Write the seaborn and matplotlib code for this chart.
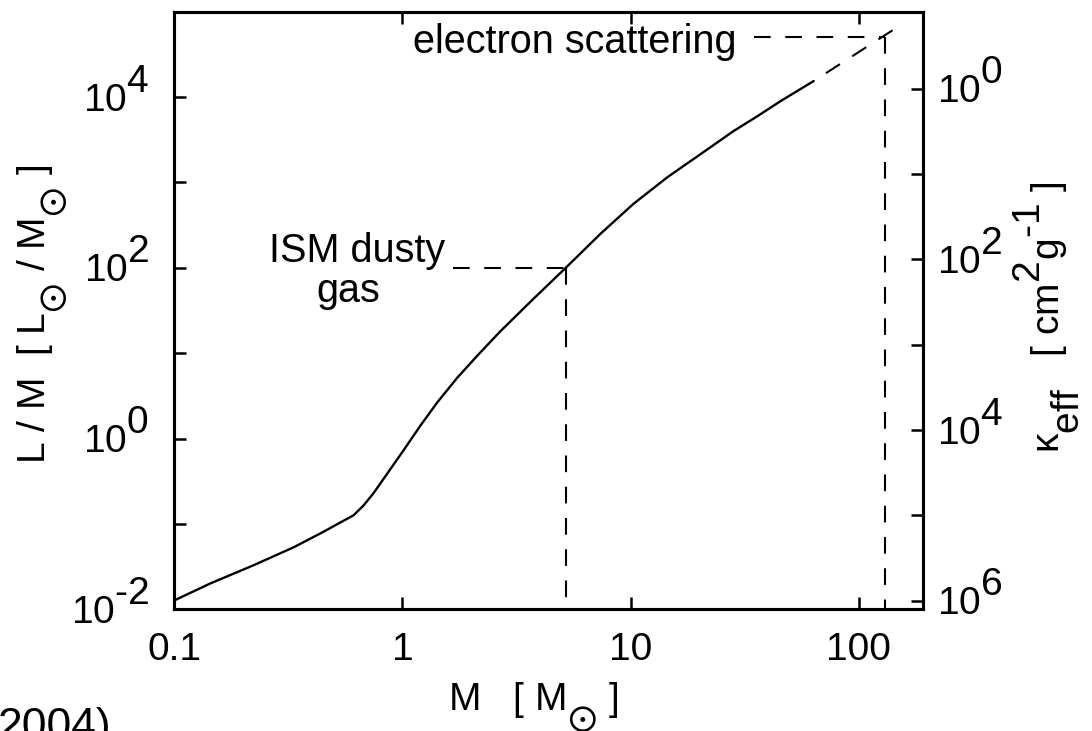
import numpy as np
import pandas as pd
import matplotlib
matplotlib.use("Agg")
import matplotlib.pyplot as plt
import matplotlib._mathtext as _mathtext
from matplotlib.ticker import FixedLocator, FuncFormatter, NullLocator
from matplotlib.transforms import ScaledTranslation
import seaborn as sns

# Stellar mass [M_sun] and light-to-mass ratio [L_sun / M_sun] along the curve
mass = [0.1, 0.144, 0.222, 0.333, 0.437, 0.610, 0.675, 0.746, 0.859, 1.01,
        1.20, 1.42, 1.74, 2.13, 2.69, 3.74, 5.2, 7.38, 10.3, 14.5,
        20.3, 28.3, 36.1, 45.5, 63.5]
light_to_mass = [0.0127, 0.0201, 0.0327, 0.0531, 0.0774, 0.126, 0.164, 0.228, 0.390, 0.724,
                 1.42, 2.64, 5.16, 9.35, 18.1, 42.9, 100, 250, 561, 1150,
                 2150, 4000, 6000, 8980, 15400]

# Extrapolated branch of the curve towards the electron-scattering limit
mass_ext = [63.5, 148]
light_to_mass_ext = [15400, 66000]

# Opacity limits: (mass, L/M) where each limit meets the curve
ism_mass, ism_lm = 5.2, 100
es_mass, es_lm = 130, 5.0e4
ism_guide_start = 1.67
es_guide_start = 34.6

# Effective opacity kappa_eff = KAPPA_NORM / (L/M)
KAPPA_NORM = 10 ** 4.1

x_ticks = [0.1, 1, 10, 100]
y_ticks = [10.0 ** k for k in range(-2, 5)]
kappa_ticks = [10.0 ** k for k in range(0, 7)]

sns.set_theme(style="ticks")
plt.rcParams["font.family"] = ["Liberation Sans", "DejaVu Sans"]
plt.rcParams["text.color"] = "black"
plt.rcParams["axes.labelcolor"] = "black"
plt.rcParams["mathtext.fontset"] = "custom"
plt.rcParams["mathtext.rm"] = "Liberation Sans"
plt.rcParams["mathtext.it"] = "Liberation Sans"
plt.rcParams["mathtext.bf"] = "Liberation Sans:bold"
plt.rcParams["mathtext.default"] = "regular"
# full-size exponents and subscripts, set well off the baseline
_mathtext.SHRINK_FACTOR = 1.0
_mathtext.FontConstantsBase.sup1 = 0.95
_mathtext.FontConstantsBase.sub1 = 0.95

FS = 28
SPINE_W = 2.2
DASH = dict(color="black", lw=1.5, linestyle=(0, (8, 7)))
HYPHEN = "\u2010"

fig = plt.figure(figsize=(10.92, 7.31), dpi=100)
ax = fig.add_axes([0.1596, 0.1665, 0.6859, 0.8175])

curve = pd.DataFrame({"mass": mass, "lm": light_to_mass})
sns.lineplot(data=curve, x="mass", y="lm", ax=ax, color="black", lw=1.7, sort=True)
ext = pd.DataFrame({"mass": mass_ext, "lm": light_to_mass_ext})
sns.lineplot(data=ext, x="mass", y="lm", ax=ax, color="black", lw=1.5,
             linestyle=(8, (8, 7)), sort=True)

# guide lines for the two opacity regimes
ax.plot([ism_guide_start, ism_mass], [ism_lm, ism_lm], **DASH)
ax.plot([ism_mass, ism_mass], [ism_lm, 1e-2], **DASH)
ax.plot([es_guide_start, es_mass], [es_lm, es_lm], **DASH)
ax.plot([es_mass, es_mass], [es_lm, 1e-2], **DASH)

ax.set_xscale("log")
ax.set_yscale("log")
ax.set_xlim(0.1, 192)
ax.set_ylim(1e-2, 1e5)


def decade_label(v, pos):
    k = int(round(np.log10(v)))
    if k % 2:
        return ""
    exp = f"{HYPHEN}{-k}" if k < 0 else f"{k}"
    return f"$10^{{{exp}}}$"


ax.xaxis.set_major_locator(FixedLocator(x_ticks))
ax.xaxis.set_major_formatter(FuncFormatter(lambda v, p: f"{v:g}"))
ax.xaxis.set_minor_locator(NullLocator())
ax.yaxis.set_major_locator(FixedLocator(y_ticks))
ax.yaxis.set_major_formatter(FuncFormatter(decade_label))
ax.yaxis.set_minor_locator(NullLocator())
ax.tick_params(axis="x", which="major", direction="in", length=8.6, width=1.8,
               labelsize=FS, top=True, pad=16, colors="black")
ax.tick_params(axis="y", which="major", direction="in", length=8.6, width=1.8,
               labelsize=FS, right=False, pad=18, colors="black")

ax2 = ax.twinx()
ax2.set_yscale("log")
ax2.set_ylim(KAPPA_NORM / 1e-2, KAPPA_NORM / 1e5)
ax2.yaxis.set_major_locator(FixedLocator(kappa_ticks))
ax2.yaxis.set_major_formatter(FuncFormatter(decade_label))
ax2.yaxis.set_minor_locator(NullLocator())
ax2.tick_params(axis="y", which="major", direction="in", length=8.6, width=1.8,
                labelsize=FS, pad=10, colors="black")

# centre the "10" of each power label on its tick rather than the whole label
lift = ScaledTranslation(0, 5.0 / 72, fig.dpi_scale_trans)
for tick in ax.yaxis.get_major_ticks():
    tick.label1.set_transform(tick.label1.get_transform() + lift)
for tick in ax2.yaxis.get_major_ticks():
    tick.label2.set_transform(tick.label2.get_transform() + lift)

for a in (ax, ax2):
    for s in a.spines.values():
        s.set_linewidth(SPINE_W)
        s.set_color("black")

ax.set_xlabel(r"M   [ $\mathregular{M_{\odot}}$ ]", fontsize=FS)
ax.xaxis.set_label_coords(0.479, -0.118)
ax.set_ylabel(r"L / M  [ $\mathregular{L_{\odot}}$ / $\mathregular{M_{\odot}}$ ]", fontsize=FS)
ax.yaxis.set_label_coords(-0.139, 0.494)
ax2.set_ylabel(f"$\\mathregular{{κ_{{eff}}}}$   [ $\\mathregular{{cm^{{2}}g^{{{HYPHEN}1}}}}$ ]",
               fontsize=FS)
ax2.yaxis.set_label_coords(1.117, 0.489)

ax.text(1.113, 3.25e4, "electron scattering", fontsize=28.5, ha="left", va="baseline")
ax.text(0.632, 116, "ISM dusty", fontsize=28.5, ha="center", va="baseline")
ax.text(0.581, 39.5, "gas", fontsize=28.5, ha="center", va="baseline")

fig.text(0.1016, -0.011, "2004)", fontsize=32, ha="right", va="baseline")

fig.savefig("out.png", dpi=100, facecolor="white")
